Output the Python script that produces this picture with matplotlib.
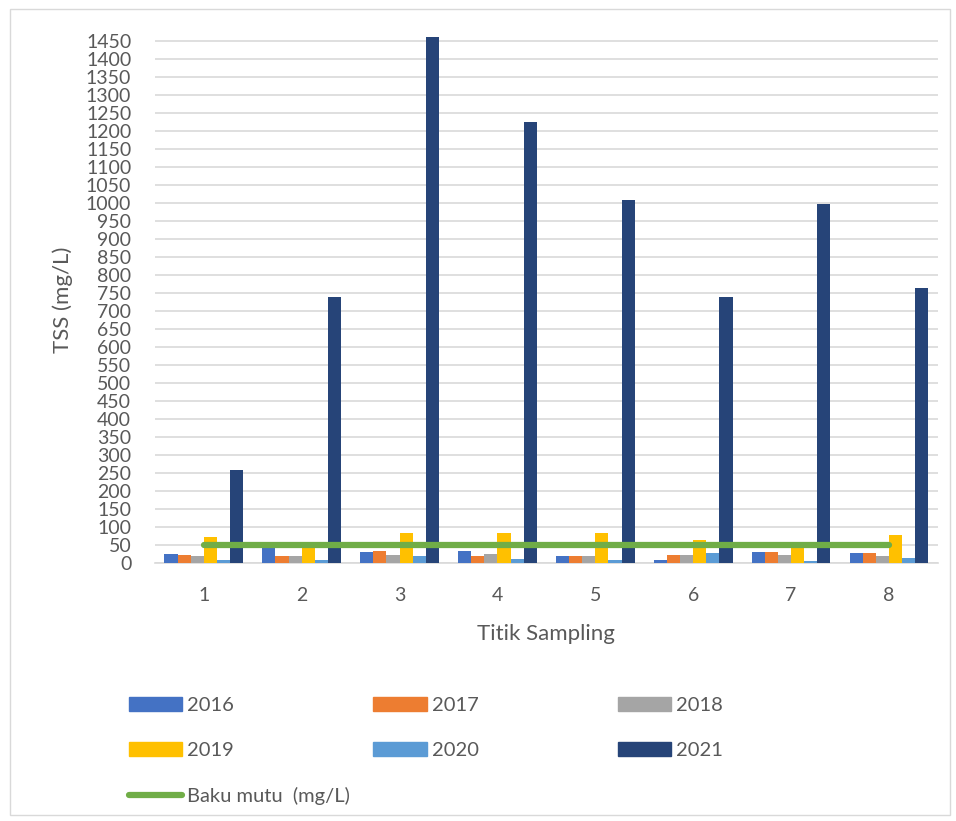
import matplotlib.pyplot as plt
import numpy as np
from matplotlib.lines import Line2D
from matplotlib.patches import Patch, Rectangle

plt.rcParams['font.family'] = ['Lato', 'DejaVu Sans']

titik = [1, 2, 3, 4, 5, 6, 7, 8]
tahun = ['2016', '2017', '2018', '2019', '2020', '2021']
tss_2016 = [26, 45, 31, 33, 18, 8, 30, 27]
tss_2017 = [21, 19, 34, 18, 18, 21, 31, 27]
tss_2018 = [18, 19, 21, 25, 18, 21, 22, 20]
tss_2019 = [72, 48, 82, 83, 83, 64, 58, 78]
tss_2020 = [8, 8, 18, 12, 8, 29, 5, 14]
tss_2021 = [257, 738, 1460, 1225, 1008, 738, 996, 763]
baku_mutu = 50
yticks = np.arange(0, 1451, 50)

warna = ['#4472c4', '#ed7d31', '#a5a5a5', '#ffc000', '#5b9bd5', '#264478']
teks = '#595959'

data = [tss_2016, tss_2017, tss_2018, tss_2019, tss_2020, tss_2021]

fig = plt.figure(figsize=(9.56, 8.21), dpi=100)
ax = fig.add_axes([0.162, 0.3143, 0.819, 0.647])

x = np.arange(len(titik))
w = 0.134
for i, (vals, c) in enumerate(zip(data, warna)):
    ax.bar(x + (i - 2.5) * w, vals, w, color=c, zorder=3)

ax.plot([x[0], x[-1]], [baku_mutu, baku_mutu], color='#70ad47', lw=4.5,
        solid_capstyle='round', zorder=4)

ax.set_xlim(-0.5, len(titik) - 0.5)
ax.set_ylim(0, 1475)
ax.set_yticks(yticks)
ax.set_xticks(x)
ax.set_xticklabels([str(t) for t in titik])
ax.tick_params(axis='both', length=0, labelsize=14, colors=teks)
ax.tick_params(axis='y', pad=17)
ax.tick_params(axis='x', pad=17)
ax.grid(axis='y', color='#d9d9d9', lw=1.2, zorder=0)
for s in ['top', 'right', 'left']:
    ax.spines[s].set_visible(False)
ax.spines['bottom'].set_color('#d9d9d9')
ax.spines['bottom'].set_linewidth(1.2)

ax.set_ylabel('TSS (mg/L)', fontsize=16, color=teks)
ax.set_xlabel('Titik Sampling', fontsize=16, color=teks)
ax.yaxis.set_label_coords(-0.104, 0.495)
ax.xaxis.set_label_coords(0.5, -0.115)

# legend: years in 2 rows of 3, baku mutu on its own row
urut = [0, 3, 1, 4, 2, 5]
handles = [Patch(color=warna[i]) for i in urut]
labels = [tahun[i] for i in urut]
leg1 = fig.legend(handles, labels, ncol=3, loc='upper left',
                  bbox_to_anchor=(129 / 956, 1 - 697 / 821), frameon=False,
                  fontsize=14.5, labelcolor=teks, handlelength=2.65,
                  handleheight=0.7, handletextpad=0.25, columnspacing=6.9,
                  labelspacing=1.4, borderpad=0, borderaxespad=0)
leg2 = fig.legend([Line2D([0], [0], color='#70ad47', lw=4.5,
                          solid_capstyle='round')],
                  ['Baku mutu  (mg/L)'], loc='upper left',
                  bbox_to_anchor=(129 / 956, 1 - 787 / 821), frameon=False,
                  fontsize=14.5, labelcolor=teks, handlelength=2.65,
                  handletextpad=0.25, borderpad=0, borderaxespad=0)

fig.patches.append(Rectangle((10 / 956, 6 / 821), 940 / 956, 806 / 821,
                             transform=fig.transFigure, fill=False,
                             edgecolor='#d9d9d9', lw=1))

fig.savefig('out.png', dpi=100)
